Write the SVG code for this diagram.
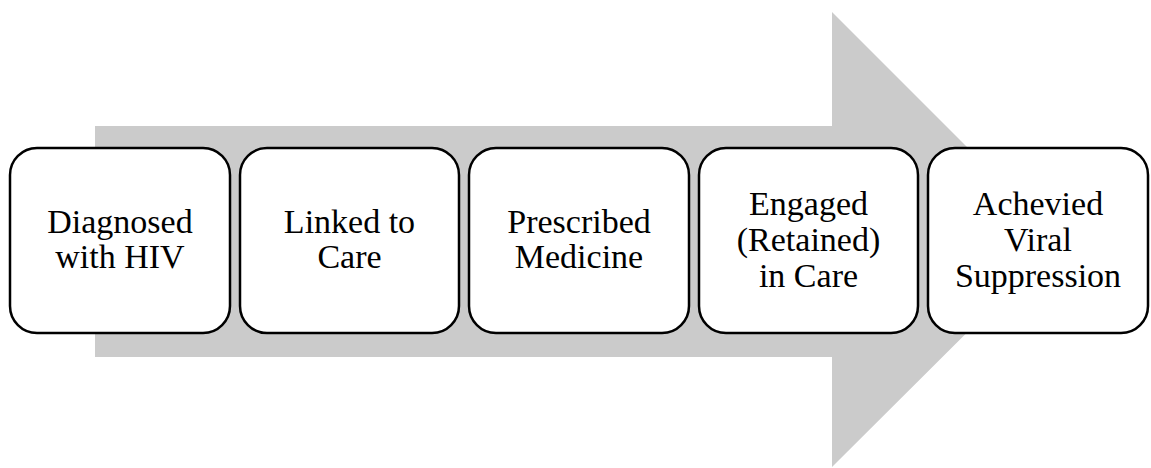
<svg xmlns="http://www.w3.org/2000/svg" width="1151" height="468" viewBox="0 0 1151 468">
  <style>
    .box { fill: #ffffff; stroke: #000000; stroke-width: 2.5; }
    .lbl { font-family: "Liberation Serif", "Times New Roman", Times, Tinos, "Noto Serif", "DejaVu Serif", FreeSerif, serif; font-size: 34px; fill: #000000; text-anchor: middle; }
  </style>
  <rect width="1151" height="468" fill="#ffffff"/>
  <!-- background process arrow -->
  <g id="arrow">
    <polygon points="95,126 832,126 832,12 1060,240 832,467 832,357 95,357" fill="#cbcbcb"/>
  </g>
  <g id="step1">
    <rect class="box" x="10" y="148" width="220" height="185" rx="27" ry="27"/>
    <text class="lbl" x="120" y="233">Diagnosed</text>
    <text class="lbl" x="120" y="268">with HIV</text>
  </g>
  <g id="step2">
    <rect class="box" x="240" y="148" width="219" height="185" rx="27" ry="27"/>
    <text class="lbl" x="349.5" y="233">Linked to</text>
    <text class="lbl" x="349.5" y="268">Care</text>
  </g>
  <g id="step3">
    <rect class="box" x="469" y="148" width="220" height="185" rx="27" ry="27"/>
    <text class="lbl" x="579" y="233">Prescribed</text>
    <text class="lbl" x="579" y="268">Medicine</text>
  </g>
  <g id="step4">
    <rect class="box" x="699" y="148" width="219" height="185" rx="27" ry="27"/>
    <text class="lbl" x="808.5" y="215">Engaged</text>
    <text class="lbl" x="808.5" y="251">(Retained)</text>
    <text class="lbl" x="808.5" y="287">in Care</text>
  </g>
  <g id="step5">
    <rect class="box" x="928" y="148" width="220" height="185" rx="27" ry="27"/>
    <text class="lbl" x="1038" y="215">Achevied</text>
    <text class="lbl" x="1038" y="251">Viral</text>
    <text class="lbl" x="1038" y="287">Suppression</text>
  </g>
  <g id="connectors"/>
</svg>
